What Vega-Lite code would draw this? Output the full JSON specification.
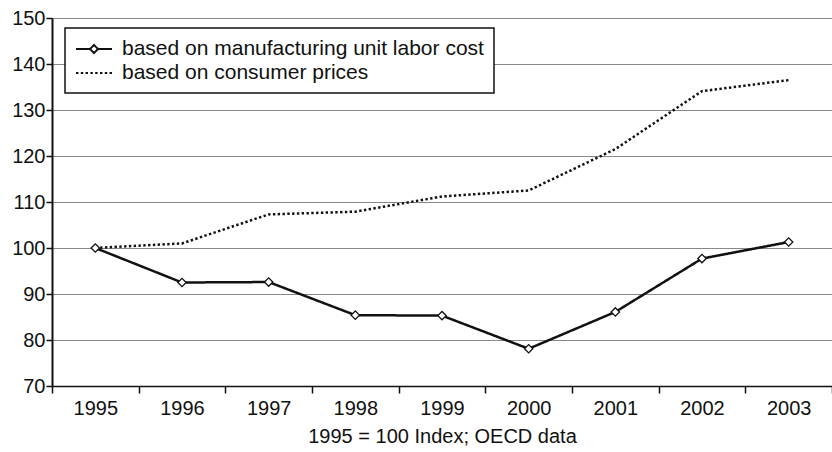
{
  "$schema": "https://vega.github.io/schema/vega-lite/v6.json",
  "autosize": {"type": "none"},
  "padding": {"left": 52, "top": 18, "right": 0, "bottom": 66},
  "width": 780,
  "height": 368,
  "background": "white",
  "config": {
    "font": "Liberation Sans",
    "view": {"stroke": null},
    "axis": {"labelFont": "Liberation Sans", "titleFont": "Liberation Sans", "labelColor": "#111", "titleColor": "#111", "domainColor": "#111", "tickColor": "#111"}
  },
  "data": {
    "values": [
      {"year": "1995", "series": "based on manufacturing unit labor cost", "value": 100},
      {"year": "1996", "series": "based on manufacturing unit labor cost", "value": 92.5},
      {"year": "1997", "series": "based on manufacturing unit labor cost", "value": 92.6},
      {"year": "1998", "series": "based on manufacturing unit labor cost", "value": 85.4},
      {"year": "1999", "series": "based on manufacturing unit labor cost", "value": 85.3},
      {"year": "2000", "series": "based on manufacturing unit labor cost", "value": 78.1},
      {"year": "2001", "series": "based on manufacturing unit labor cost", "value": 86.1},
      {"year": "2002", "series": "based on manufacturing unit labor cost", "value": 97.7},
      {"year": "2003", "series": "based on manufacturing unit labor cost", "value": 101.3},
      {"year": "1995", "series": "based on consumer prices", "value": 100},
      {"year": "1996", "series": "based on consumer prices", "value": 101},
      {"year": "1997", "series": "based on consumer prices", "value": 107.3},
      {"year": "1998", "series": "based on consumer prices", "value": 107.9},
      {"year": "1999", "series": "based on consumer prices", "value": 111.2},
      {"year": "2000", "series": "based on consumer prices", "value": 112.5},
      {"year": "2001", "series": "based on consumer prices", "value": 121.5},
      {"year": "2002", "series": "based on consumer prices", "value": 134.1},
      {"year": "2003", "series": "based on consumer prices", "value": 136.5}
    ]
  },
  "encoding": {
    "x": {
      "field": "year", "type": "ordinal",
      "scale": {"type": "band", "paddingInner": 0, "paddingOuter": 0},
      "axis": {
        "title": "1995 = 100 Index; OECD data",
        "labelAngle": 0, "labelFontSize": 20, "titleFontSize": 20, "titleFontWeight": "normal",
        "labelPadding": 5, "titlePadding": 8,
        "tickBand": "extent", "tickSize": 7, "tickWidth": 1.5, "domainWidth": 1.5,
        "grid": false
      }
    },
    "y": {
      "field": "value", "type": "quantitative",
      "scale": {"domain": [70, 150], "nice": false, "zero": false},
      "axis": {
        "title": null, "values": [70, 80, 90, 100, 110, 120, 130, 140, 150],
        "labelFontSize": 20, "labelPadding": 1, "tickSize": 6, "tickWidth": 1.5, "domainWidth": 2,
        "grid": true, "gridColor": "#888", "gridWidth": 1.2, "gridOpacity": 1
      }
    }
  },
  "layer": [
    {
      "mark": {"type": "line", "color": "#111", "strokeWidth": 2.5},
      "encoding": {
        "strokeDash": {
          "field": "series", "type": "nominal",
          "scale": {
            "domain": ["based on manufacturing unit labor cost", "based on consumer prices"],
            "range": [[1, 0], [2.4, 2.4]]
          },
          "legend": {
            "title": null,
            "orient": "none", "legendX": 13, "legendY": 10,
            "strokeColor": "#111", "fillColor": "white",
            "padding": 10,
            "labelFont": "Liberation Sans", "labelFontSize": 21, "labelColor": "#111", "labelLimit": 0,
            "symbolSize": 400, "symbolStrokeWidth": 2, "symbolStrokeColor": "#111",
            "rowPadding": 3, "labelOffset": 25,
            "encode": {
              "legend": {"update": {"strokeWidth": {"value": 1.5}}},
              "symbols": {
                "update": {
                  "fill": {"value": "white"},
                  "stroke": {"value": "#111"},
                  "strokeWidth": {"value": 2},
                  "opacity": {"value": 1},
                  "strokeDash": {"signal": "datum.value === 'based on manufacturing unit labor cost' ? [1, 0] : [2.2, 2.2]"},
                  "shape": {"signal": "datum.value === 'based on manufacturing unit labor cost' ? 'M-1,0L0.4,0L0.8,-0.4L1.2,0L0.8,0.4L0.4,0ZM1.2,0L2.6,0' : 'M-1,0L2.6,0'"}
                }
              }
            }
          }
        }
      }
    },
    {
      "transform": [{"filter": "datum.series === 'based on manufacturing unit labor cost'"}],
      "mark": {"type": "point", "shape": "diamond", "filled": true, "fill": "white", "stroke": "#111", "strokeWidth": 1.3, "size": 70, "opacity": 1}
    }
  ]
}
